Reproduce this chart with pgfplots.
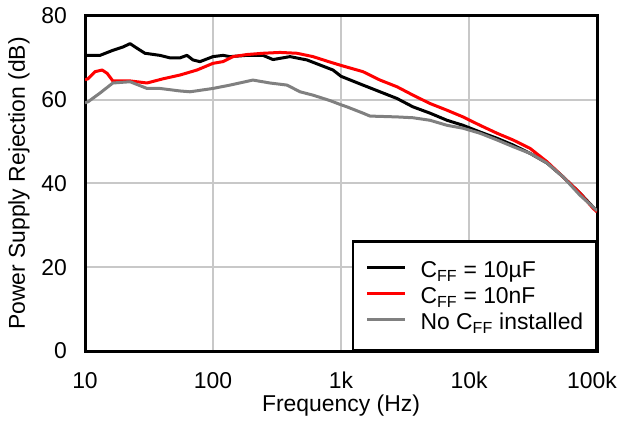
\documentclass[border=0pt]{standalone}
\usepackage{fontspec}
\setmainfont{Liberation Sans}
\usepackage{pgfplots}
\pgfplotsset{compat=1.18}
\definecolor{gridgray}{RGB}{200,200,200}
\definecolor{curvegray}{RGB}{128,128,128}
\definecolor{curvered}{RGB}{255,0,0}
\begin{document}
\begin{tikzpicture}
\path[use as bounding box] (-85bp,-73bp) rectangle (535bp,351bp);
\begin{axis}[
  at={(0,0)}, anchor=south west,
  scale only axis, width=512bp, height=335bp,
  xmode=log, xmin=10, xmax=100000, ymin=0, ymax=80,
  xtick={10,100,1000,10000,100000},
  xticklabels={10,100,1k,10k,\hspace*{-10bp}100k},
  ytick={0,20,40,60,80},
  xminorticks=false, yminorticks=false,
  major tick length=0pt,
  grid=major,
  major grid style={gridgray, line width=2bp},
  axis line style={line width=3bp},
  font=\fontsize{23}{27}\selectfont,
  /pgf/number format/assume math mode=true,
  xticklabel style={anchor=base, yshift=-37.3bp, inner sep=0pt},
  yticklabel style={anchor=east, xshift=-18bp, inner sep=0pt},
  xlabel={Frequency (Hz)},
  ylabel={Power Supply Rejection (dB)},
  xlabel style={at={(axis description cs:0.5,-0.1812)}, anchor=base, inner sep=0pt},
  ylabel style={at={(axis description cs:-0.1504,0.5)}, anchor=north, inner sep=0pt},
  legend cell align=left,
  legend image code/.code={\draw[#1] (0bp,2bp) -- (38bp,2bp);},
  legend style={at={(1,0)}, anchor=south east, draw=black, line width=2.5bp,
    inner xsep=12.5bp, inner ysep=15bp, row sep=0bp, column sep=14bp,
    font=\fontsize{23}{27}\selectfont,
    nodes={inner xsep=0bp, inner ysep=0bp, text height=21bp, text depth=5bp}},
  every axis plot/.append style={line width=3bp, line join=round},
]
\addplot[black] coordinates {
(10,70.6) (10.55,70.6) (13.1,70.6) (16.5,71.8) (19.8,72.6) (22.5,73.4) (25.5,72.3)
(29.4,71.1) (38.5,70.6) (46.1,70.0) (55.2,70.0) (62.6,70.6) (69.8,69.5) (79.1,69.1)
(100,70.3) (119.7,70.6) (135.8,70.3) (184.4,70.6) (245.8,70.6) (294.3,69.6) (399.6,70.3)
(542.5,69.5) (685,68.3) (866,67.1) (1000,65.6) (1486,63.5) (2017,61.9) (2738,60.3)
(3652,58.3) (4959,56.8) (6730,55.1) (8977,53.9) (12190,52.3) (16550,50.8) (22070,49.2)
(29970,47.2) (40660,44.9) (54240,41.6) (73620,37.7) (93040,34.4) (100000,33.5)
};
\addlegendentry{C\textsubscript{FF} = 10µF}
\addplot[curvered] coordinates {
(10,64.8) (10.55,65.0) (11.97,66.7) (13.6,67.1) (14.9,66.3) (16.5,64.5) (22.5,64.5)
(30.5,64.0) (40.7,65.0) (55.2,65.9) (75.0,67.1) (100,68.7) (119.7,69.1) (143.3,70.3)
(184.4,70.8) (245.8,71.1) (333.8,71.3) (453,71.1) (604,70.3) (820,69.0) (1000,68.2)
(1486,66.7) (2017,64.7) (2738,63.1) (3652,61.1) (4959,59.1) (6730,57.5) (8977,55.9)
(12190,53.9) (16550,52.0) (22070,50.4) (29970,48.4) (40660,45.2) (54240,41.6)
(73620,37.7) (93040,34.1) (100000,33.2)
};
\addlegendentry{C\textsubscript{FF} = 10nF}
\addplot[curvegray] coordinates {
(10,59.3) (10.55,59.5) (13.1,61.6) (16.5,64.0) (22.5,64.3) (30.5,62.7) (38.5,62.7)
(55.2,62.1) (66.1,61.9) (100,62.7) (135.8,63.5) (205,64.7) (278.8,64.0) (378.6,63.5)
(478.5,61.9) (604,61.1) (820,59.8) (1000,58.8) (1114,58.3) (1486,56.8) (1685,56.1)
(2738,55.9) (3652,55.7) (4959,55.1) (6730,53.9) (8977,53.2) (12190,52.0) (16550,50.4)
(22070,48.8) (29970,47.2) (40660,44.9) (54240,41.6) (73620,37.2) (93040,34.4) (100000,33.5)
};
\addlegendentry{No C\textsubscript{FF} installed}
\end{axis}
\end{tikzpicture}
\end{document}
